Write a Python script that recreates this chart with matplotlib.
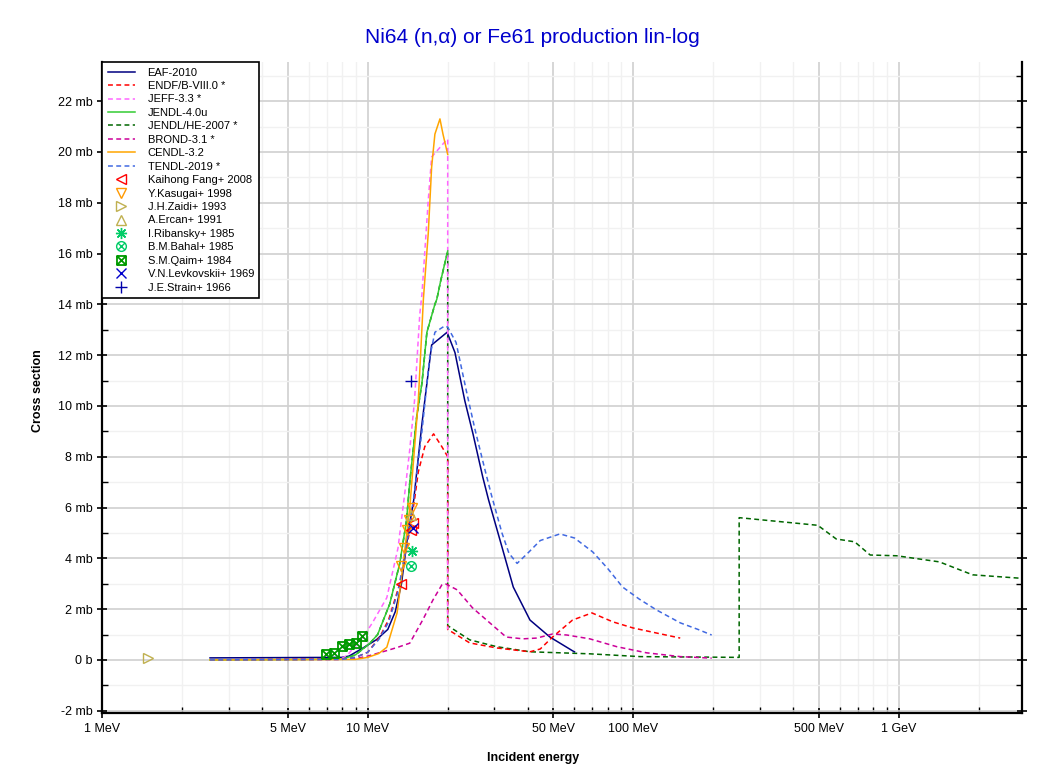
import numpy as np
import matplotlib
matplotlib.use('Agg')
import matplotlib.pyplot as plt
from matplotlib.path import Path
from matplotlib.ticker import FixedLocator, FuncFormatter, NullFormatter

plt.rcParams['font.family'] = ['Liberation Sans', 'DejaVu Sans']

# ---------------- data (energy in MeV, cross section in mb) ----------------
eaf_E = [2.55, 8.0, 8.5, 9.6, 10.8, 11.9, 12.7, 13.4, 14.1, 14.9, 16.0, 17.4, 19.9,
         21.3, 23.2, 24.9, 27.1, 28.5, 32.0, 35.3, 40.8, 48.5, 59.2, 60.0]
eaf_S = [0.08, 0.10, 0.15, 0.47, 0.80, 1.20, 1.90, 3.0, 4.8, 6.3, 9.3, 12.4, 12.9,
         12.1, 10.2, 8.9, 7.2, 6.3, 4.45, 2.87, 1.57, 0.90, 0.35, 0.32]

endf_E = [2.55, 8.0, 9.0, 10.0, 11.1, 12.0, 13.2, 14.4, 15.0, 15.5, 16.4, 17.7, 19.0, 20.0,
          20.0, 24.2, 30.6, 40.8, 44.6, 49.6, 59.0, 69.8, 83.6, 99.5, 122.0, 150.0]
endf_S = [0.0, 0.02, 0.10, 0.30, 0.90, 1.60, 3.0, 5.1, 6.3, 7.4, 8.4, 8.9, 8.4, 8.0,
          1.2, 0.67, 0.47, 0.32, 0.43, 0.90, 1.57, 1.85, 1.50, 1.26, 1.06, 0.86]

jeff_E = [2.55, 7.9, 8.4, 9.6, 10.4, 11.8, 13.0, 13.8, 14.4, 15.0, 15.7, 16.0, 16.9, 17.4,
          19.9, 20.0, 20.0]
jeff_S = [0.0, 0.02, 0.20, 0.90, 1.45, 2.45, 4.4, 6.6, 8.3, 10.2, 13.6, 14.4, 18.1, 19.8,
          20.5, 20.5, 1.2]

jendl4_E = [2.55, 8.0, 9.0, 10.2, 10.9, 12.1, 13.2, 14.0, 14.4, 15.3, 16.0, 16.7, 17.9,
            18.2, 18.8, 20.0]
jendl4_S = [0.0, 0.03, 0.20, 0.66, 1.0, 2.2, 3.8, 5.5, 7.0, 9.6, 10.9, 12.9, 14.0,
            14.2, 14.9, 16.1]

jendlhe_E = [2.55, 8.0, 9.0, 10.2, 10.9, 12.1, 13.2, 14.0, 14.4, 15.3, 16.0, 16.7, 17.9,
             18.2, 18.8, 20.0, 20.0, 24.2, 30.6, 40.8, 68.5, 106.0, 250.0, 250.0, 494.0,
             580.0, 680.0, 778.0, 980.0, 1417.0, 1890.0, 3000.0]
jendlhe_S = [0.0, 0.03, 0.20, 0.66, 1.0, 2.2, 3.8, 5.5, 7.0, 9.6, 10.9, 12.9, 14.0,
             14.2, 14.9, 16.1, 1.35, 0.79, 0.52, 0.32, 0.24, 0.13, 0.10, 5.6, 5.3,
             4.76, 4.65, 4.13, 4.10, 3.86, 3.35, 3.20]

brond_E = [2.55, 9.0, 10.0, 12.1, 13.0, 14.4, 16.1, 17.6, 19.0, 19.6, 21.7, 24.8, 28.8,
           33.2, 38.4, 43.3, 49.6, 56.2, 68.5, 86.6, 112.0, 150.0, 197.0]
brond_S = [0.0, 0.05, 0.15, 0.40, 0.50, 0.66, 1.57, 2.36, 2.95, 3.0, 2.76, 2.05, 1.46,
           0.90, 0.83, 0.86, 1.02, 0.98, 0.83, 0.52, 0.28, 0.13, 0.07]

cendl_E = [2.55, 9.0, 10.0, 11.0, 11.8, 12.9, 13.6, 14.4, 15.5, 16.2, 16.9, 17.4, 17.9,
           18.7, 19.2, 20.0]
cendl_S = [0.0, 0.02, 0.10, 0.25, 0.50, 1.85, 3.8, 6.0, 10.2, 14.2, 16.8, 19.4, 20.7,
           21.3, 20.7, 19.9]

tendl_E = [2.55, 8.0, 9.0, 10.0, 11.0, 12.0, 13.0, 14.0, 15.0, 16.0, 17.1, 17.9, 19.5,
           20.0, 21.5, 23.5, 25.3, 27.6, 29.2, 32.0, 34.0, 36.5, 40.0, 44.6, 52.9, 60.0,
           70.3, 80.0, 91.0, 105.0, 122.0, 150.0, 175.0, 197.0]
tendl_S = [0.0, 0.02, 0.10, 0.30, 0.80, 1.50, 2.7, 4.5, 6.6, 9.0, 11.9, 12.9, 13.15,
           13.1, 12.5, 10.6, 9.1, 7.5, 6.5, 5.0, 4.2, 3.8, 4.2, 4.7, 4.96, 4.8,
           4.25, 3.6, 2.87, 2.4, 1.97, 1.46, 1.2, 0.98]

fang_E = [13.3, 14.6, 14.8]
fang_S = [3.0, 5.1, 5.4]
kasugai_E = [13.4, 13.7, 14.1, 14.3, 14.7]
kasugai_S = [3.7, 4.4, 5.1, 5.5, 6.0]
zaidi_E = [1.49]
zaidi_S = [0.08]
ercan_E = [14.6]
ercan_S = [5.7]
ribansky_E = [14.7]
ribansky_S = [4.3]
bahal_E = [14.5]
bahal_S = [3.7]
qaim_E = [6.95, 7.45, 8.0, 8.5, 9.0, 9.5]
qaim_S = [0.24, 0.26, 0.55, 0.62, 0.66, 0.94]
levkovskii_E = [14.8]
levkovskii_S = [5.2]
strain_E = [14.5]
strain_S = [11.0]

# ---------------- markers ----------------
M, L, C = Path.MOVETO, Path.LINETO, Path.CLOSEPOLY
sq = Path([(-1, -1), (1, -1), (1, 1), (-1, 1), (-1, -1)], [M, L, L, L, C])
d1 = Path([(-1, -1), (1, 1)], [M, L])
d2 = Path([(-1, 1), (1, -1)], [M, L])
boxx = Path.make_compound_path(sq, d1, d2)
k = 0.7071
c1 = Path([(-k, -k), (k, k)], [M, L])
c2 = Path([(-k, k), (k, -k)], [M, L])
circx = Path.make_compound_path(Path.unit_circle(), c1, c2)

fig = plt.figure(figsize=(10.46, 7.74), dpi=100)
ax = fig.add_axes([102 / 1046, 1 - 713 / 774, 920 / 1046, 651 / 774])

dash = (0, (3.2, 2.2))
lw = 1.1
ax.plot(eaf_E, eaf_S, color='#000080', lw=lw, ls='-', label='EAF-2010', zorder=3)
ax.plot(endf_E, endf_S, color='#ff0000', lw=lw, ls=dash, label='ENDF/B-VIII.0 *', zorder=3)
ax.plot(jeff_E, jeff_S, color='#ff66ff', lw=lw, ls=dash, label='JEFF-3.3 *', zorder=3)
ax.plot(jendl4_E, jendl4_S, color='#33cc33', lw=lw, ls='-', label='JENDL-4.0u', zorder=3)
ax.plot(jendlhe_E, jendlhe_S, color='#006600', lw=lw, ls=dash, label='JENDL/HE-2007 *', zorder=2.5)
ax.plot(brond_E, brond_S, color='#cc0099', lw=lw, ls=dash, label='BROND-3.1 *', zorder=3)
ax.plot(cendl_E, cendl_S, color='#ffa500', lw=lw, ls='-', label='CENDL-3.2', zorder=3)
ax.plot(tendl_E, tendl_S, color='#4169e1', lw=lw, ls=dash, label='TENDL-2019 *', zorder=3)

ms = 7
def pts(E, S, marker, color, label, size=ms, mew=1.0):
    ax.plot(E, S, ls='none', marker=marker, markersize=size, markerfacecolor='none',
            markeredgecolor=color, markeredgewidth=mew, label=label, zorder=4)

pts(fang_E, fang_S, '<', '#ff0000', 'Kaihong Fang+ 2008')
pts(kasugai_E, kasugai_S, 'v', '#ff9900', 'Y.Kasugai+ 1998')
pts(zaidi_E, zaidi_S, '>', '#c0b050', 'J.H.Zaidi+ 1993')
pts(ercan_E, ercan_S, '^', '#c0b050', 'A.Ercan+ 1991')
pts(ribansky_E, ribansky_S, (8, 2, 0), '#00cc66', 'I.Ribansky+ 1985', size=8)
pts(bahal_E, bahal_S, circx, '#00cc66', 'B.M.Bahal+ 1985', size=7)
pts(qaim_E, qaim_S, boxx, '#009900', 'S.M.Qaim+ 1984', size=6.5, mew=1.3)
pts(levkovskii_E, levkovskii_S, 'x', '#0000cc', 'V.N.Levkovskii+ 1969')
pts(strain_E, strain_S, '+', '#0000aa', 'J.E.Strain+ 1966', size=8)

# ---------------- axes ----------------
ax.set_xscale('log')
ax.set_xlim(1, 2900)
ax.set_ylim(-2.09, 23.54)

xmaj = [1, 5, 10, 50, 100, 500, 1000]
xlab = ['1 MeV', '5 MeV', '10 MeV', '50 MeV', '100 MeV', '500 MeV', '1 GeV']
xmin = [m * 10 ** p for p in range(0, 4) for m in range(2, 10) if m != 5 and m * 10 ** p < 2900]
ax.xaxis.set_major_locator(FixedLocator(xmaj))
ax.xaxis.set_minor_locator(FixedLocator(xmin))
ax.set_xticklabels(xlab)
ax.xaxis.set_minor_formatter(NullFormatter())

ymaj = list(range(-2, 23, 2))
ax.yaxis.set_major_locator(FixedLocator(ymaj))
ax.yaxis.set_minor_locator(FixedLocator(list(range(-1, 24, 2))))
ax.yaxis.set_major_formatter(FuncFormatter(lambda v, p: '0 b' if abs(v) < 1e-9 else '%d mb' % v))

ax.set_axisbelow(True)
ax.grid(True, which='major', color='#d0d0d0', lw=1.2)
ax.grid(True, which='minor', color='#f1f1f1', lw=1.0)

ax.tick_params(axis='both', which='major', direction='inout', length=7, width=1.2,
               labelsize=9, colors='black')
ax.tick_params(axis='both', which='minor', direction='in', length=4, width=1.0)
ax.tick_params(axis='y', which='both', right=True)
ax.tick_params(axis='x', which='major', pad=4)

for s in ['left', 'bottom', 'right']:
    ax.spines[s].set_linewidth(1.6)
    ax.spines[s].set_color('black')
ax.spines['top'].set_visible(False)

fig.text(0.509, 0.952, 'Ni64 (n,\u03b1) or Fe61 production lin-log', color='#0000cc',
         fontsize=15, ha='center', va='center')
fig.text(0.510, 0.021, 'Incident energy', fontsize=9, fontweight='bold',
         ha='center', va='center')
fig.text(0.036, 0.495, 'Cross section', fontsize=9, fontweight='bold',
         ha='center', va='center', rotation=90)

leg = ax.legend(loc='upper left', bbox_to_anchor=(0, 1), borderaxespad=0, fontsize=8,
                frameon=True, fancybox=False, edgecolor='black', handlelength=2.5,
                labelspacing=0.31, borderpad=0.5, handletextpad=1.1, framealpha=1)
leg.get_frame().set_linewidth(1.2)

fig.savefig('out.png', dpi=100)
